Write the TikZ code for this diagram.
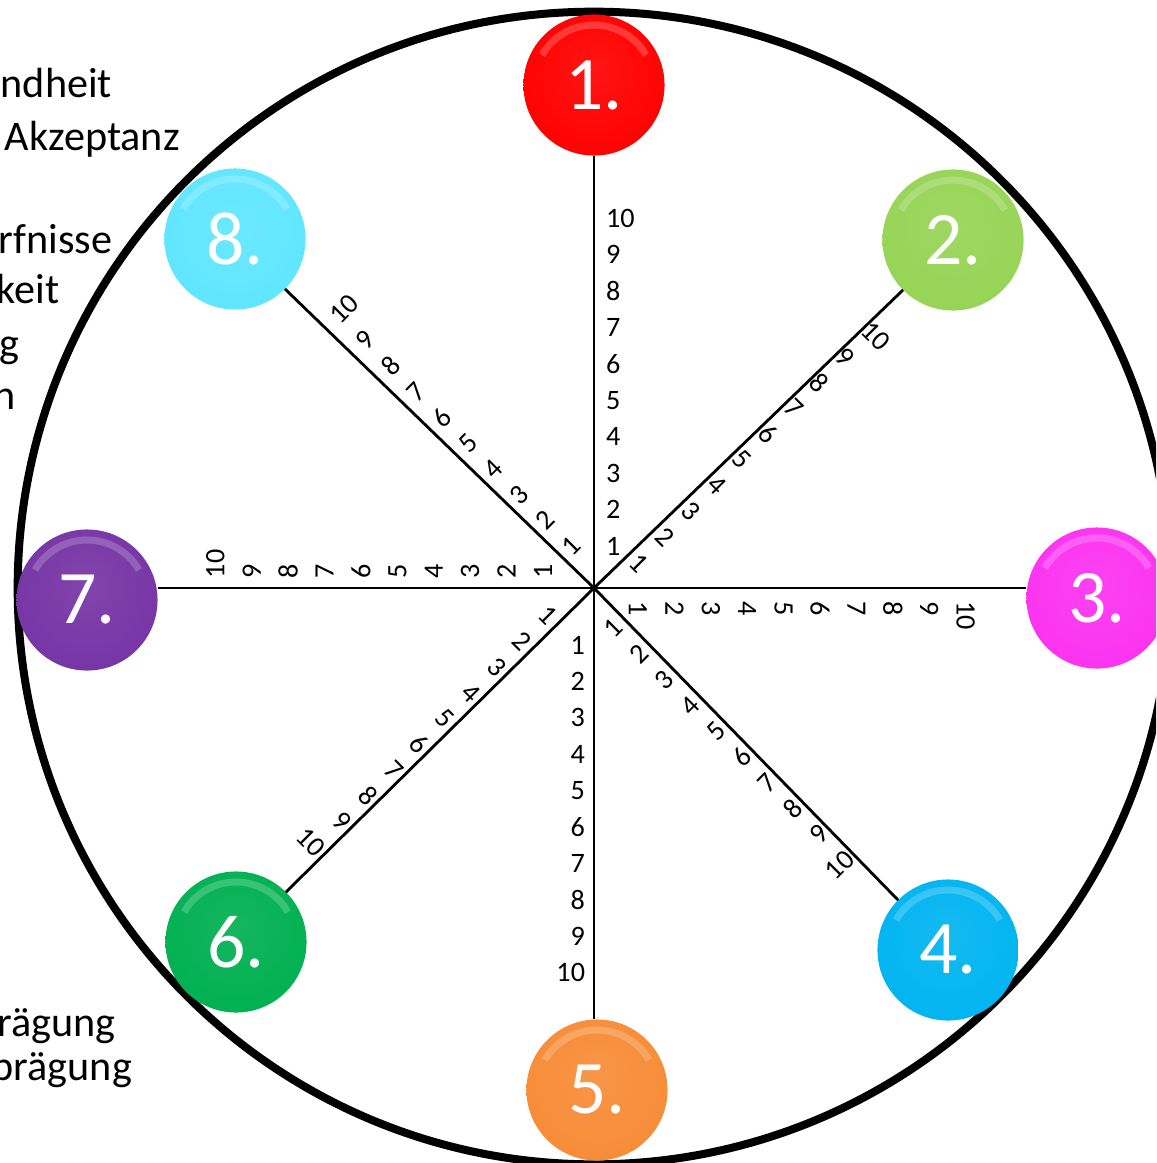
\documentclass[tikz,border=0pt]{standalone}
\usepackage{fontspec}
\setmainfont{Carlito}
\usetikzlibrary{calc}
\definecolor{bRed}{RGB}{255,0,0}
\definecolor{bGreen}{RGB}{150,212,85}
\definecolor{bPink}{RGB}{252,50,240}
\definecolor{bBlue}{RGB}{0,180,240}
\definecolor{bOrange}{RGB}{247,140,55}
\definecolor{bDark}{RGB}{0,176,80}
\definecolor{bPurple}{RGB}{118,52,165}
\definecolor{bCyan}{RGB}{95,230,255}
\colorlet{bc}{red}
\pgfdeclareradialshading[bc]{bubshade}{\pgfpoint{0bp}{6bp}}{color(0bp)=(bc!92!white); color(30bp)=(bc); color(41bp)=(bc); color(47bp)=(bc!82!black); color(50bp)=(bc!50!black)}

\begin{document}
\begin{tikzpicture}[x=0.01cm,y=-0.01cm,
  bubble/.style={circle,minimum size=1.41cm,inner sep=0pt,outer sep=0pt,shading=bubshade,text=white,font=\fontsize{21.5}{21.5}\selectfont},
  spoke/.style={line width=0.8pt,black},
  tick/.style={inner sep=0pt,outer sep=0pt,font=\fontsize{8}{8}\selectfont},
  side/.style={anchor=base west,inner sep=0pt,font=\fontsize{12}{12}\selectfont}]
\useasboundingbox (0,0) rectangle (1156,1163);
\clip (0,0) rectangle (1156,1163);
\coordinate (c) at (594,588);
\draw[line width=0.08cm] (c) circle (5.76cm);
% texts cut at the left edge
\node[side] (s1) at (0,97) {ndheit};
\node[side] (s2) at (4,150) {Akzeptanz};
\node[side] (s3) at (-2,253) {rfnisse};
\node[side] (s4) at (-4,303) {keit};
\node[side] (s5) at (-1,357) {g};
\node[side] (s6) at (-7,409) {n};
\node[side] (s7) at (-3,1036) {rägung};
\node[side] (s8) at (-9,1080) {prägung};
% buttons
\foreach \s/\x/\y/\col in {1/594/85/bRed,2/953/240/bGreen,3/1097/598/bPink,4/948/950/bBlue,
  5/597/1090/bOrange,6/236/942/bDark,7/87/600/bPurple,8/235/239/bCyan}{
  \colorlet{bc}{\col}
  \node[bubble] (b\s) at (\x,\y) {\s.};
  \draw[white,opacity=.2,line width=2pt] ([shift={(b\s.center)}]30:0.6cm) arc[start angle=30,end angle=150,radius=0.6cm];}
\draw[spoke] (c) -- (b1.south -| c);
\draw[spoke] (c) -- (b2.225);
\draw[spoke] (c) -- (b3.west |- c);
\draw[spoke] (c) -- (b4.135);
\draw[spoke] (c) -- (b5.north -| c);
\draw[spoke] (c) -- (b6.45);
\draw[spoke] (c) -- (b7.east |- c);
\draw[spoke] (c) -- (b8.315);
% scale numbers
\foreach \s/\ang/\dz/\g/\rot/\anc in {1/90/42/12/0/west,2/45/50/7/-45/west,3/0/44/13/-90/west,4/-45/42/8/45/east,
  5/-90/57/9/0/east,6/-135/52/6/-45/east,7/180/51/10/90/west,8/135/46/6/45/west}{
 \foreach \j in {1,...,10}{
  \pgfmathsetmacro{\dist}{\dz+(\j-1)*36.4}
  \node[tick,rotate=\rot,anchor=\anc] (t\s-\j) at ($(c)+({\dist*cos(\ang)+\g*sin(\ang)},{-\dist*sin(\ang)+\g*cos(\ang)})$) {\j};}}
\end{tikzpicture}
\end{document}
